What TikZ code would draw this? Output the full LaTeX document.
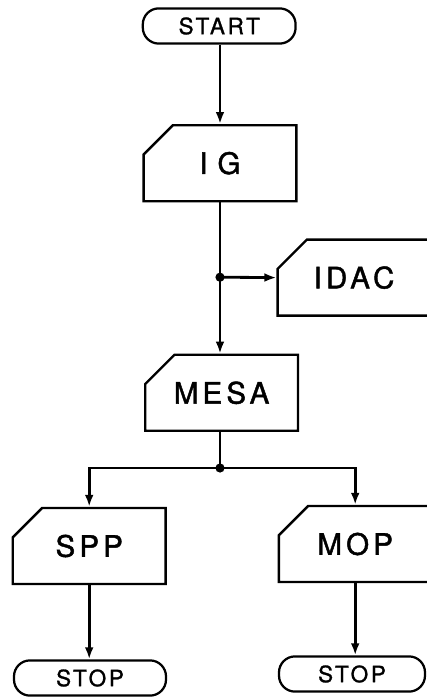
\documentclass[tikz,border=0pt]{standalone}
\usepackage{fontspec}
\setsansfont{TeX Gyre Heros}
\usetikzlibrary{shapes.misc,arrows.meta}

\begin{document}
\begin{tikzpicture}[x=1cm,y=1cm,>={Latex[length=3mm,width=2.2mm]},font=\sffamily]
  \tikzstyle{term}=[draw, line width=1.6pt, rounded corners=0.4cm, fill=white, align=center,
    font=\fontsize{16}{18}\sffamily\addfontfeature{LetterSpace=12,FakeBold=1.2}, minimum height=0.88cm]
  \tikzstyle{card}=[draw, line width=1.7pt, chamfered rectangle, chamfered rectangle corners=north west,
    chamfered rectangle xsep=0.45cm, chamfered rectangle ysep=0.45cm, fill=white, align=center,
    font=\fontsize{21}{23}\sffamily\addfontfeature{LetterSpace=14,FakeBold=1.5}, minimum width=3.82cm, minimum height=1.9cm, inner sep=0pt]
  \tikzstyle{flow}=[->, line width=2pt]
  \tikzstyle{line}=[line width=2pt]
  \tikzstyle{dot}=[circle, fill, inner sep=0pt, minimum size=2.3mm]

  \path[use as bounding box] (0,0) rectangle (10.65,-17.5);

  \node[term, minimum width=3.82cm] (start) at (5.48,-0.65) {START};
  \node[card] (ig) at (5.5,-4.08) {I\,\,G};
  \node[card] (idac) at (8.85,-6.94) {IDAC};
  \node[card] (mesa) at (5.54,-9.82) {MESA};
  \node[card] (spp) at (2.23,-13.65) {SPP};
  \node[card] (mop) at (8.88,-13.6) {MOP};
  \node[term, minimum width=3.8cm] (stop1) at (2.25,-16.95) {STOP};
  \node[term, minimum width=3.65cm] (stop2) at (8.8,-16.85) {STOP};

  \node[dot] (j1) at (5.5,-6.93) {};
  \node[dot] (j2) at (5.5,-11.7) {};

  \draw[flow] (start.south -| ig.north) -- (ig.north);
  \draw[flow] (ig.south) -- (ig.south |- mesa.north);
  \draw[flow] (j1.center) -- (idac.west);
  \draw[line] (mesa.south -| j2) -- (j2.center);
  \draw[flow] (j2.center) -| (spp.north);
  \draw[flow] (j2.center) -| (mop.north);
  \draw[flow] (spp.south) -- (spp.south |- stop1.north);
  \draw[flow] (mop.south) -- (mop.south |- stop2.north);
\end{tikzpicture}
\end{document}
